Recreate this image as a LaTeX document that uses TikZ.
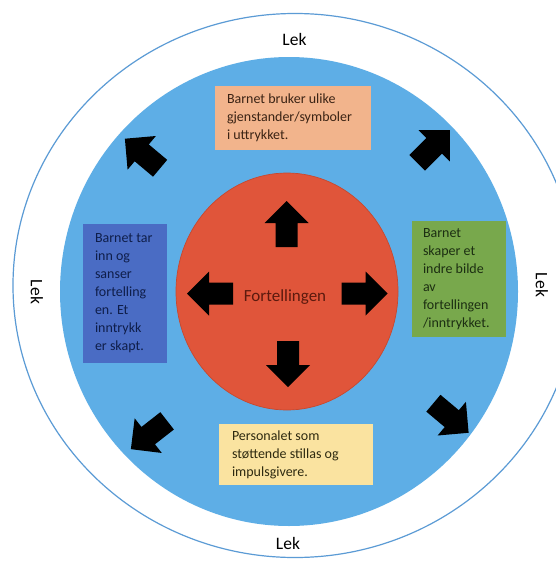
\documentclass[tikz,border=0pt]{standalone}
\usepackage{fontspec}
\setmainfont{Carlito}
\usetikzlibrary{shapes.geometric}
\definecolor{ringline}{HTML}{5B9BD5}
\definecolor{ringblue}{HTML}{5EAEE6}
\definecolor{corered}{HTML}{E0553A}
\definecolor{coreedge}{HTML}{C8482E}
\definecolor{peach}{HTML}{F2B48C}
\definecolor{slate}{HTML}{4A6CC4}
\definecolor{grass}{HTML}{78A84C}
\definecolor{cream}{HTML}{FAE3A0}
\definecolor{peachtxt}{HTML}{3B2314}
\definecolor{slatetxt}{HTML}{0F1E4A}
\definecolor{grasstxt}{HTML}{1C2E12}
\definecolor{creamtxt}{HTML}{2E2A10}
\definecolor{coretxt}{HTML}{5C1A0E}
\begin{document}
\begin{tikzpicture}[x=1pt,y=-1pt,
  panel/.style={rectangle, inner sep=0pt, draw=none},
  paneltext/.style={anchor=west, align=left, inner sep=0pt,
    font=\fontsize{14}{18}\selectfont},
  ringlabel/.style={inner sep=0pt, font=\fontsize{17.5}{20}\selectfont},
  blockarrow/.pic={\fill[black] (-23,-11) -- (1,-11) -- (1,-22) -- (23,0)
    -- (1,22) -- (1,11) -- (-23,11) -- cycle;}]
\useasboundingbox (0,0) rectangle (556,562);
\fill[white] (0,0) rectangle (556,562);

% outer ring, blue field and the red core
\draw[ringline, line width=1.2pt] (295,285.5) ellipse [x radius=282, y radius=272];
\fill[ringblue] (289,291.5) ellipse [x radius=229, y radius=234.5];
\node[ellipse, inner sep=0pt, minimum width=222, minimum height=237,
  fill=corered, draw=coreedge, line width=0.7pt] (core) at (287,291.5) {};
\node[inner sep=0pt, text=coretxt, font=\fontsize{17}{20}\selectfont]
  (fort) at (285,297) {Fortellingen};

% labels on the outer ring
\node[ringlabel] (lektop) at (294.5,39) {Lek};
\node[ringlabel] (lekbottom) at (288,543) {Lek};
\node[ringlabel, rotate=-90] (lekleft) at (37,292) {Lek};
\node[ringlabel, rotate=-90] (lekright) at (542,285) {Lek};

% the four text panels
\node[panel, fill=peach, minimum width=156, minimum height=64] (bruker) at (293,118) {};
\node[paneltext, text=peachtxt] (brukertxt) at ([xshift=12pt]bruker.west)
  {Barnet bruker ulike\\gjenstander/symboler\\i uttrykket.};

\node[panel, fill=slate, minimum width=84, minimum height=139] (sanser) at (125,293.5) {};
\node[paneltext, text=slatetxt] (sansertxt) at ([xshift=12pt]sanser.west)
  {Barnet tar\\inn og\\sanser\\fortelling\\en. Et\\inntrykk\\er skapt.};

\node[panel, fill=grass, minimum width=94, minimum height=116] (skaper) at (459,279) {};
\node[paneltext, text=grasstxt] (skapertxt) at ([xshift=11pt]skaper.west)
  {Barnet\\skaper et\\indre bilde\\av\\fortellingen\\/inntrykket.};

\node[panel, fill=cream, minimum width=154, minimum height=61] (personal) at (296,454.5) {};
\node[paneltext, text=creamtxt] (personaltxt) at ([xshift=13pt]personal.west)
  {Personalet som\\støttende stillas og\\impulsgivere.};

% block arrows out of the core
\pic[rotate=90]  at (286.5,224) {blockarrow};
\pic[rotate=-90] at (288,364)   {blockarrow};
\pic[rotate=180] at (210,293.5) {blockarrow};
\pic[rotate=0]   at (364.5,293.5) {blockarrow};

% block arrows out towards the ring
\pic[rotate=140]  at (142.5,153.5) {blockarrow};
\pic[rotate=45]   at (433.5,146.5) {blockarrow};
\pic[rotate=218]  at (149,435)     {blockarrow};
\pic[rotate=-40]  at (451,418)     {blockarrow};
\end{tikzpicture}
\end{document}
